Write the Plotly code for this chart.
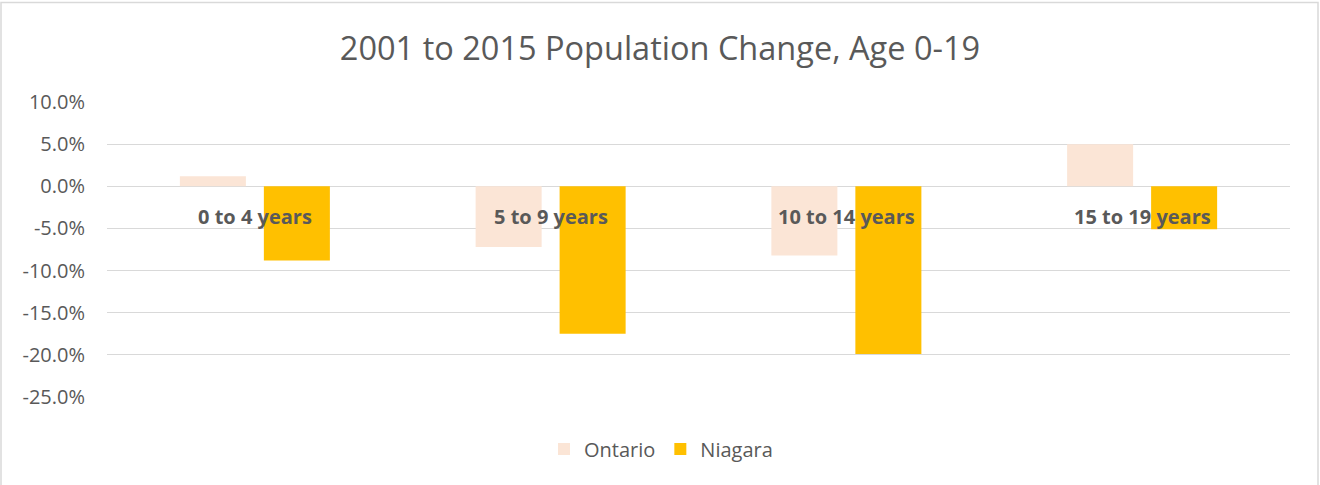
import plotly.graph_objects as go

categories = ["0 to 4 years", "5 to 9 years", "10 to 14 years", "15 to 19 years"]
ontario = [1.2, -7.2, -8.2, 5.0]
niagara = [-8.8, -17.5, -19.9, -5.1]
y_ticks = [10, 5, 0, -5, -10, -15, -20, -25]
y_tick_labels = ["10.0%", "5.0%", "0.0%", "-5.0%", "-10.0%", "-15.0%", "-20.0%", "-25.0%"]
label_level = -3.6

W, H = 1320, 485
L, R, T, B = 107, 30, 102, 88
pw, ph = W - L - R, H - T - B

FONT = "Open Sans"
GRAY = "#595959"

fig = go.Figure()
fig.add_trace(go.Bar(name="Ontario", x=categories, y=ontario, marker_color="#FBE5D6",
                     marker_line_width=0))
fig.add_trace(go.Bar(name="Niagara", x=categories, y=niagara, marker_color="#FFC000",
                     marker_line_width=0))

for c in categories:
    fig.add_annotation(x=c, y=label_level, text=f"<b>{c}</b>", showarrow=False,
                       font=dict(family=FONT, size=20, color=GRAY), xanchor="center", yanchor="middle")

def px2paper_x(px):
    return (px - L) / pw

def px2paper_y(py):
    return (H - B - py) / ph

fig.add_shape(type="rect", xref="paper", yref="paper",
              x0=px2paper_x(1), x1=px2paper_x(1318), y0=px2paper_y(488), y1=px2paper_y(2.5),
              line=dict(color="#D9D9D9", width=1.5), fillcolor="rgba(0,0,0,0)", layer="below")

fig.update_layout(
    width=W, height=H,
    margin=dict(l=L, r=R, t=T, b=B),
    paper_bgcolor="white", plot_bgcolor="white",
    barmode="group", bargap=0.432, bargroupgap=0.214,
    title=dict(text="2001 to 2015 Population Change, Age 0-19", x=0.5, xref="container",
               xanchor="center", y=1 - 49 / H, yanchor="middle",
               font=dict(family=FONT, size=32.5, color=GRAY)),
    legend=dict(orientation="h", x=px2paper_x(661), xanchor="center", y=px2paper_y(449), yanchor="middle",
                font=dict(family=FONT, size=20, color=GRAY), itemwidth=30,
                traceorder="normal"),
    font=dict(family=FONT, color=GRAY),
)
fig.update_xaxes(showticklabels=False, showgrid=False, zeroline=False, showline=False, ticks="")
fig.update_yaxes(range=[-25, 10], tickvals=y_ticks, ticktext=y_tick_labels,
                 showgrid=True, gridcolor="#D9D9D9", gridwidth=1,
                 zeroline=True, zerolinecolor="#D9D9D9", zerolinewidth=1,
                 showline=False, ticks="", ticklabelstandoff=21,
                 tickfont=dict(family=FONT, size=20, color=GRAY))

fig.write_html("out.html", config={"displayModeBar": False},
               post_script="document.body.style.margin='0';")
